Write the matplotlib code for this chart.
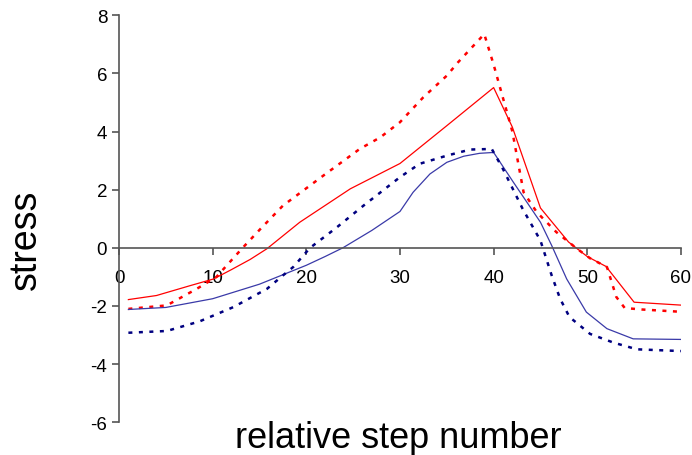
import numpy as np
import matplotlib
matplotlib.use("Agg")
import matplotlib.pyplot as plt

plt.rcParams['font.family'] = ['Liberation Sans', 'DejaVu Sans']
plt.rcParams['axes.unicode_minus'] = False

# red solid
red_x = [1, 4, 7.6, 10.1, 12, 14, 15.8, 19.3, 24.7, 30, 35, 40, 42, 45, 48, 50, 52, 55, 60]
red_y = [-1.78, -1.64, -1.3, -1.07, -0.75, -0.4, -0.03, 0.88, 2.03, 2.9, 4.2, 5.51, 4.15, 1.37, 0.2, -0.3, -0.64, -1.87, -1.97]

# red dotted
redd_x = [1, 5.1, 8.3, 10.4, 13.2, 15.1, 17.5, 21.8, 25.7, 27.9, 30, 32.5, 35, 36.2, 39, 40, 42, 43.2, 44.6, 46.7, 48.9, 50.3, 52.1, 53.1, 54, 55.8, 60]
redd_y = [-2.1, -1.98, -1.41, -1.0, 0.0, 0.65, 1.45, 2.48, 3.4, 3.8, 4.32, 5.18, 5.92, 6.38, 7.35, 6.3, 4.0, 1.91, 1.23, 0.54, -0.03, -0.36, -0.66, -1.69, -2.07, -2.12, -2.2]

# blue solid
blue_x = [1, 5, 10, 15, 20, 22, 23.9, 27, 30, 31.4, 33.2, 35, 36.8, 38.5, 40, 42.1, 45, 46.2, 47.8, 49.9, 52.1, 54.9, 60]
blue_y = [-2.12, -2.05, -1.75, -1.25, -0.6, -0.3, 0.0, 0.6, 1.25, 1.91, 2.54, 2.94, 3.15, 3.25, 3.28, 2.26, 0.88, 0.08, -1.07, -2.21, -2.78, -3.13, -3.15]

# blue dotted
blued_x = [1, 5.1, 8.6, 12.2, 15.8, 17.5, 18.6, 20.4, 23.2, 26.1, 30, 32.1, 35, 37.5, 39.8, 41, 43.1, 45, 46.2, 47.1, 48.1, 50.3, 52.8, 55.3, 60]
blued_y = [-2.92, -2.86, -2.53, -2.04, -1.41, -0.95, -0.66, 0.0, 0.69, 1.45, 2.43, 2.89, 3.17, 3.38, 3.4, 2.71, 1.34, 0.25, -0.95, -1.75, -2.38, -2.96, -3.26, -3.49, -3.55]

fig = plt.figure(figsize=(6.92, 4.56), dpi=100)
ax = fig.add_axes([0.172, 0.0717, 0.812, 0.8928])

dots = (0, (1.6, 2.6))
ax.plot(red_x, red_y, color='#ff0000', lw=0.9)
ax.plot(redd_x, redd_y, color='#ff0000', lw=1.8, linestyle=dots)
ax.plot(blue_x, blue_y, color='#3a3aa8', lw=0.9)
ax.plot(blued_x, blued_y, color='#000080', lw=1.8, linestyle=dots)

ax.set_xlim(0, 60)
ax.set_ylim(-6, 8)
ax.set_xticks(np.arange(0, 61, 10))
ax.set_yticks(np.arange(-6, 9, 2))

ax.spines['top'].set_visible(False)
ax.spines['right'].set_visible(False)
ax.spines['bottom'].set_position(('data', 0))
for s in ['left', 'bottom']:
    ax.spines[s].set_color('#555555')
    ax.spines[s].set_linewidth(1.2)
ax.tick_params(colors='#555555', labelcolor='black', labelsize=13.5, length=5, width=1.2, direction='out')
ax.tick_params(axis='x', pad=10)

fig.text(0.038, 0.474, 'stress', rotation=90, fontsize=27, ha='center', va='center')
fig.text(0.575, 0.0175, 'relative step number', fontsize=26, ha='center', va='baseline')

plt.savefig('out.png', dpi=100)
